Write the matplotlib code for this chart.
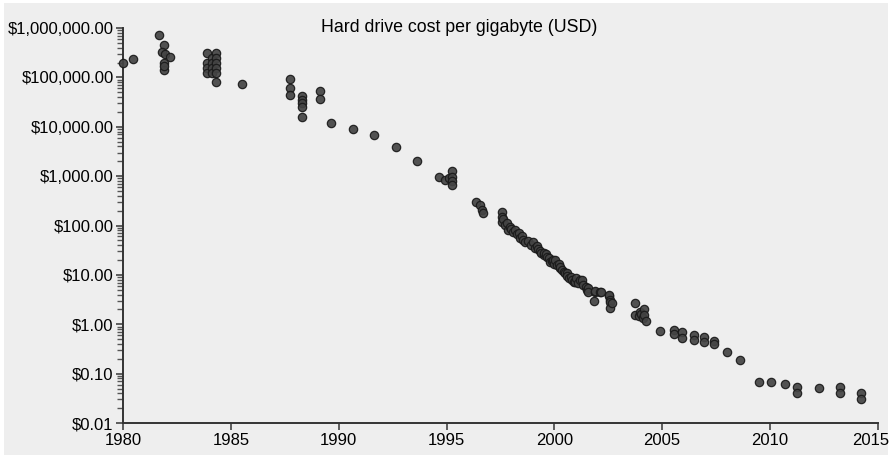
import matplotlib
matplotlib.use('Agg')
import matplotlib.pyplot as plt
from matplotlib.patches import Rectangle
from matplotlib.ticker import FuncFormatter, LogLocator
from matplotlib.transforms import ScaledTranslation

plt.rcParams['font.family'] = ['Liberation Sans', 'DejaVu Sans']

# cost per gigabyte observations (year, USD)
years = [
    1980.00, 1980.46, 1981.64, 1981.90, 1981.81, 1981.94, 1982.17, 1981.89, 1981.89, 1981.90,
    1983.87, 1983.87, 1983.87, 1983.87,
    1984.10, 1984.10, 1984.10, 1984.10,
    1984.30, 1984.30, 1984.30, 1984.30, 1984.30, 1984.30,
    1985.50,
    1987.74, 1987.74, 1987.74,
    1988.31, 1988.31, 1988.31, 1988.31, 1988.31,
    1989.13, 1989.13, 1989.64,
    1990.65, 1991.65, 1992.65, 1993.65, 1994.66,
    1994.94, 1995.10, 1995.25, 1995.25, 1995.25, 1995.25,
    1996.37, 1996.56, 1996.65, 1996.69,
    1997.57, 1997.57, 1997.57, 1997.60, 1997.72, 1997.80, 1997.87, 1997.95, 1998.00, 1998.10,
    1998.18, 1998.25, 1998.34, 1998.42, 1998.50, 1998.55, 1998.65, 1998.80, 1998.90, 1999.03,
    1999.11, 1999.20, 1999.25, 1999.35, 1999.40, 1999.50, 1999.50, 1999.60, 1999.65, 1999.73,
    1999.81, 1999.90, 1999.96, 2000.00, 2000.04, 2000.12, 2000.20, 2000.27, 2000.27, 2000.35,
    2000.43, 2000.50, 2000.58, 2000.60, 2000.66, 2000.75, 2000.80, 2000.89, 2000.97, 2001.00,
    2001.10, 2001.20, 2001.28, 2001.35, 2001.45, 2001.50, 2001.58, 2001.58, 2001.82, 2001.90,
    2001.90, 2002.13, 2002.16, 2002.52, 2002.52, 2002.59, 2002.60, 2002.60, 2002.67,
    2003.74, 2003.74, 2003.91, 2003.99, 2004.00, 2004.10, 2004.14, 2004.14, 2004.23,
    2004.88, 2005.53, 2005.53, 2005.92, 2005.92, 2006.46, 2006.46, 2006.93, 2006.93,
    2007.42, 2007.42, 2008.01, 2008.63,
    2009.51, 2010.07, 2010.72, 2011.26, 2011.26, 2012.28, 2013.27, 2013.27, 2014.23, 2014.23,
]
cost_per_gb = [
    193000, 232000, 711000, 459000, 331000, 294000, 255000, 193000, 141000, 168000,
    308000, 193000, 155000, 123000,
    247000, 193000, 155000, 123000,
    308000, 247000, 193000, 155000, 123000, 81000,
    72000,
    92000, 60000, 44000,
    41000, 35000, 30000, 25500, 16000,
    54000, 36000, 12100,
    8900, 6900, 3950, 2000, 950,
    840, 900, 1290, 980, 810, 660,
    305, 261, 207, 177,
    191, 151, 120, 135, 103, 110, 81, 95, 85, 75,
    81, 68, 70, 55, 60, 52, 47, 48, 40, 47,
    35, 38, 33, 30, 28, 25.4, 27.5, 26, 23, 21.8,
    18.6, 19, 20.1, 17, 20.1, 15.9, 17, 13.7, 14.7, 12.5,
    11.7, 10.8, 10.8, 9.5, 8.6, 9.0, 8.0, 7.3, 7.3, 8.6,
    6.8, 7.9, 7.9, 6.3, 5.8, 5.0, 5.4, 4.6, 3.0, 4.6,
    4.8, 4.4, 4.4, 3.8, 3.9, 3.1, 2.8, 2.1, 2.7,
    2.7, 1.55, 1.48, 1.8, 1.65, 1.35, 2.0, 1.55, 1.19,
    0.73, 0.77, 0.64, 0.71, 0.52, 0.61, 0.48, 0.56, 0.43,
    0.45, 0.40, 0.27, 0.19,
    0.069, 0.069, 0.061, 0.053, 0.040, 0.051, 0.053, 0.040, 0.040, 0.030,
]
year_ticks = [1980, 1985, 1990, 1995, 2000, 2005, 2010, 2015]

bg = '#eeeeee'
fig = plt.figure(figsize=(8.92, 4.59), dpi=100, facecolor='white')
fig.patches.append(Rectangle((0.004, 0.008), 0.992, 0.985, transform=fig.transFigure,
                             facecolor=bg, edgecolor='none', zorder=-1))

ax = fig.add_axes([0.1382, 0.0784, 0.8457, 0.8606])
ax.set_facecolor(bg)

ax.scatter(years, cost_per_gb, s=36, facecolor='#444444', edgecolor='#1a1a1a',
           linewidth=0.9, alpha=0.92, zorder=3, clip_on=False)

ax.set_yscale('log')
ax.set_ylim(0.01, 1e6)
ax.set_xlim(1980, 2015)

ax.yaxis.set_major_locator(LogLocator(base=10, numticks=20))
ax.yaxis.set_minor_locator(LogLocator(base=10, subs=range(2, 10), numticks=20))
ax.yaxis.set_major_formatter(FuncFormatter(lambda v, _: f'${v:,.2f}'))
ax.set_xticks(year_ticks)

for side in ('top', 'right'):
    ax.spines[side].set_visible(False)
for side in ('left', 'bottom'):
    ax.spines[side].set_color('#333333')
    ax.spines[side].set_linewidth(1.4)

ax.tick_params(axis='both', which='major', direction='out', length=5, width=1.2,
               color='#444444', labelsize=12, labelcolor='black')
ax.tick_params(axis='y', which='minor', direction='out', length=4, width=1, color='#555555')
ax.tick_params(axis='y', which='major', pad=2)
ax.tick_params(axis='x', which='major', pad=2)

# nudge the last year label so it stays inside the figure
last = ax.xaxis.get_major_ticks()[-1].label1
last.set_transform(last.get_transform() + ScaledTranslation(-5 / 72, 0, fig.dpi_scale_trans))

fig.text(0.515, 0.941, 'Hard drive cost per gigabyte (USD)', ha='center', va='center',
         fontsize=12.8)

fig.savefig('out.png', dpi=100, facecolor=fig.get_facecolor())
